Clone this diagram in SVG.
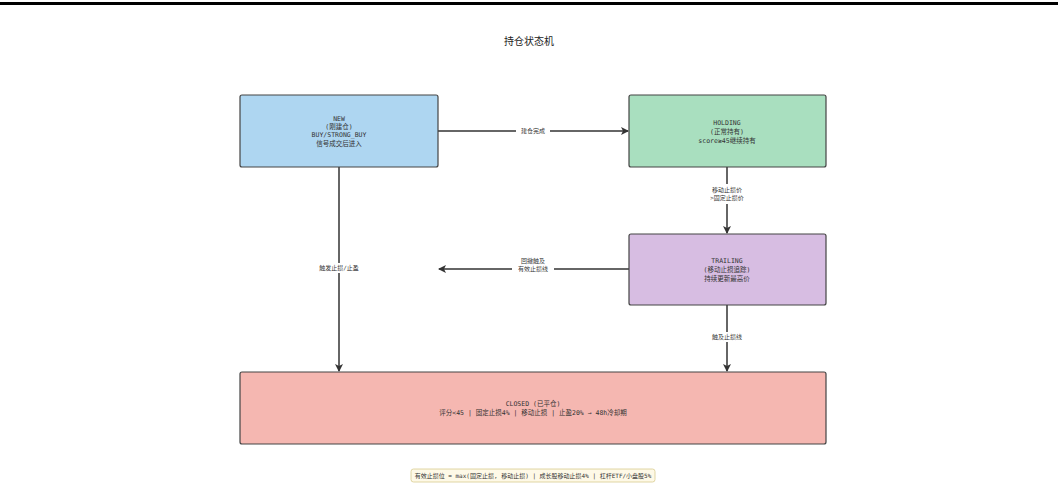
<svg xmlns="http://www.w3.org/2000/svg" width="1058" height="502" viewBox="0 0 1058 502">
<style>
.box{stroke:#444;stroke-width:1.2}
.t{font-family:"DejaVu Sans Mono","Noto Sans CJK SC",monospace;font-size:6.5px;fill:#333;text-anchor:middle}
.lbl{font-family:"DejaVu Sans Mono","Noto Sans CJK SC",monospace;font-size:6px;fill:#333;text-anchor:middle}
.c{stroke:#333;stroke-width:1.5;fill:none}
.bg{fill:#fff}
</style>
<defs>
<marker id="ah" markerWidth="8" markerHeight="8" refX="7" refY="4" orient="auto" markerUnits="userSpaceOnUse">
<path d="M0,0 L8,4 L0,8 L2,4 Z" fill="#333"/>
</marker>
</defs>
<rect width="1058" height="502" fill="#fff"/>
<rect x="0" y="2" width="1058" height="3" fill="#000"/>
<text x="529" y="45" font-family="'Noto Sans CJK SC',sans-serif" font-size="10" fill="#222" text-anchor="middle">持仓状态机</text>

<g id="connectors">
<line class="c" x1="438" y1="131" x2="628" y2="131" marker-end="url(#ah)"/>
<rect class="bg" x="516" y="126" width="34" height="10"/>
<text class="lbl" x="533" y="133">建仓完成</text>
<line class="c" x1="339" y1="167" x2="339" y2="371" marker-end="url(#ah)"/>
<rect class="bg" x="313" y="263" width="52" height="10"/>
<text class="lbl" x="339" y="270">触发止损/止盈</text>
<line class="c" x1="727" y1="167" x2="727" y2="233" marker-end="url(#ah)"/>
<rect class="bg" x="706" y="184" width="42" height="20"/>
<text class="lbl" x="727" y="192">移动止损价</text>
<text class="lbl" x="727" y="200">&gt;固定止损价</text>
<line class="c" x1="629" y1="269" x2="439" y2="269" marker-end="url(#ah)"/>
<rect class="bg" x="512" y="256" width="42" height="18"/>
<text class="lbl" x="533" y="263">回撤触及</text>
<text class="lbl" x="533" y="271">有效止损线</text>
<line class="c" x1="727" y1="305" x2="727" y2="371" marker-end="url(#ah)"/>
<rect class="bg" x="708" y="332" width="38" height="10"/>
<text class="lbl" x="727" y="339">触及止损线</text>
</g>

<g id="new">
<rect class="box" x="240" y="95" width="198" height="72" rx="2" fill="#aed6f1"/>
<text class="t" x="339" y="121">NEW</text>
<text class="t" x="339" y="129">(刚建仓)</text>
<text class="t" x="339" y="137">BUY/STRONG_BUY</text>
<text class="t" x="339" y="146">信号成交后进入</text>
</g>
<g id="holding">
<rect class="box" x="629" y="95" width="197" height="72" rx="2" fill="#a9dfbf"/>
<text class="t" x="727" y="125">HOLDING</text>
<text class="t" x="727" y="134">(正常持有)</text>
<text class="t" x="727" y="143">score≥45继续持有</text>
</g>
<g id="trailing">
<rect class="box" x="629" y="234" width="197" height="71" rx="2" fill="#d7bde2"/>
<text class="t" x="727" y="263">TRAILING</text>
<text class="t" x="727" y="272">(移动止损追踪)</text>
<text class="t" x="727" y="281">持续更新最高价</text>
</g>
<g id="closed">
<rect class="box" x="240" y="372" width="586" height="72" rx="2" fill="#f5b7b1"/>
<text class="t" x="533" y="406">CLOSED (已平仓)</text>
<text class="t" x="533" y="415">评分&lt;45 | 固定止损4% | 移动止损 | 止盈20% → 48h冷却期</text>
</g>
<g id="note">
<rect x="411" y="469" width="244" height="13" rx="2.5" fill="#fef9e7" stroke="#d8cc90" stroke-width="0.8"/>
<text class="lbl" x="533" y="478" font-size="5.5">有效止损位 = max(固定止损, 移动止损) | 成长股移动止损4% | 杠杆ETF/小盘股5%</text>
</g>
</svg>
